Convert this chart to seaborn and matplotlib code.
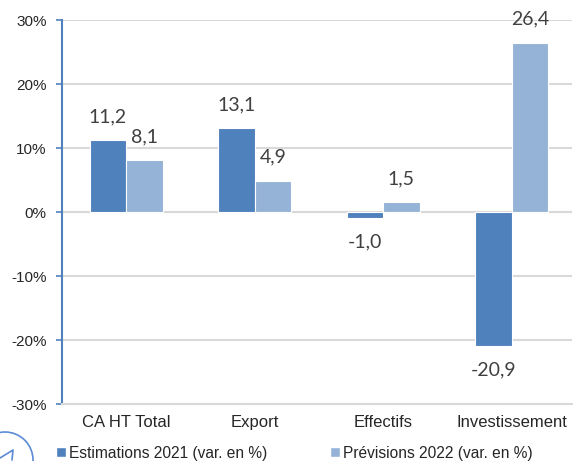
import pandas as pd
import seaborn as sns
import matplotlib.pyplot as plt
from matplotlib.patches import Circle, Patch
from matplotlib.lines import Line2D
from matplotlib.transforms import IdentityTransform

# ----------- Data ---------------------

categories = ["CA HT Total", "Export", "Effectifs", "Investissement"]
estimations_2021 = [11.2, 13.1, -1.0, -20.9]
previsions_2022 = [8.1, 4.9, 1.5, 26.4]
series_names = ["Estimations 2021 (var. en %)", "Prévisions 2022 (var. en %)"]
y_ticks = [-30, -20, -10, 0, 10, 20, 30]

df = pd.DataFrame({
    "categorie": categories * 2,
    "valeur": estimations_2021 + previsions_2022,
    "serie": [series_names[0]] * 4 + [series_names[1]] * 4,
})

dark_blue = "#4F81BD"
light_blue = "#95B3D7"
grid_grey = "#D9D9D9"

# ----------- Build Chart ---------------------

sns.set_style("white")
plt.rcParams["font.family"] = ["Liberation Sans", "DejaVu Sans"]

fig = plt.figure(figsize=(5.74, 4.61), dpi=100)
ax = fig.add_axes([62 / 574, 57 / 461, 510 / 574, 384 / 461])

chart = sns.barplot(data=df, x="categorie", y="valeur", hue="serie",
                    palette=[dark_blue, light_blue], width=0.57, saturation=1,
                    edgecolor="white", linewidth=0.8, ax=ax, legend=False)

ax.set_ylim(-30, 30)
ax.set_xlim(-0.5, 3.47)
ax.set_yticks(y_ticks)
ax.set_yticklabels([f"{t}%" for t in y_ticks], fontsize=11)
ax.set_xlabel("")
ax.set_ylabel("")
ax.tick_params(axis="x", length=0, pad=8, labelsize=12)
ax.tick_params(axis="y", left=True, length=4, width=1.2, color=dark_blue, pad=7)

ax.yaxis.grid(True, color=grid_grey, linewidth=1.5)
ax.set_axisbelow(True)
ax.axhline(0, color=grid_grey, linewidth=1.5, zorder=0.5)

for side in ["top", "right"]:
    ax.spines[side].set_visible(False)
ax.spines["bottom"].set_color(grid_grey)
ax.spines["bottom"].set_linewidth(1.5)
ax.spines["left"].set_color(dark_blue)
ax.spines["left"].set_linewidth(1.5)

# data labels
for container in chart.containers:
    for bar in container:
        h = bar.get_height()
        x = bar.get_x() + bar.get_width() / 2
        txt = f"{h:.1f}".replace(".", ",")
        if h >= 0:
            ax.annotate(txt, (x, h), xytext=(0, 11), textcoords="offset points",
                        ha="center", va="bottom", fontsize=14, color="#404040",
                        family=["Lato", "DejaVu Sans"])
        else:
            ax.annotate(txt, (x, h), xytext=(0, -11), textcoords="offset points",
                        ha="center", va="top", fontsize=14, color="#404040",
                        family=["Lato", "DejaVu Sans"])

# legend
handles = [Patch(facecolor=dark_blue), Patch(facecolor=light_blue)]
fig.legend(handles, series_names, loc="center left", bbox_to_anchor=(56 / 574, 1 - 453 / 461),
           ncol=2, frameon=False, fontsize=11.2, handlelength=0.65, handleheight=0.65,
           handletextpad=0.2, columnspacing=4.0, borderaxespad=0, borderpad=0)

# logo fragment in the corner
logo_col = "#5B8BD6"
fig.patches.append(Circle((5, 1), 28, transform=IdentityTransform(), fill=False,
                          edgecolor=logo_col, linewidth=1.2))
fig.lines.append(Line2D([0, 13, 12], [3, 11, 1], transform=IdentityTransform(),
                        color=logo_col, linewidth=1.2))

plt.savefig("out.png", dpi=100)
